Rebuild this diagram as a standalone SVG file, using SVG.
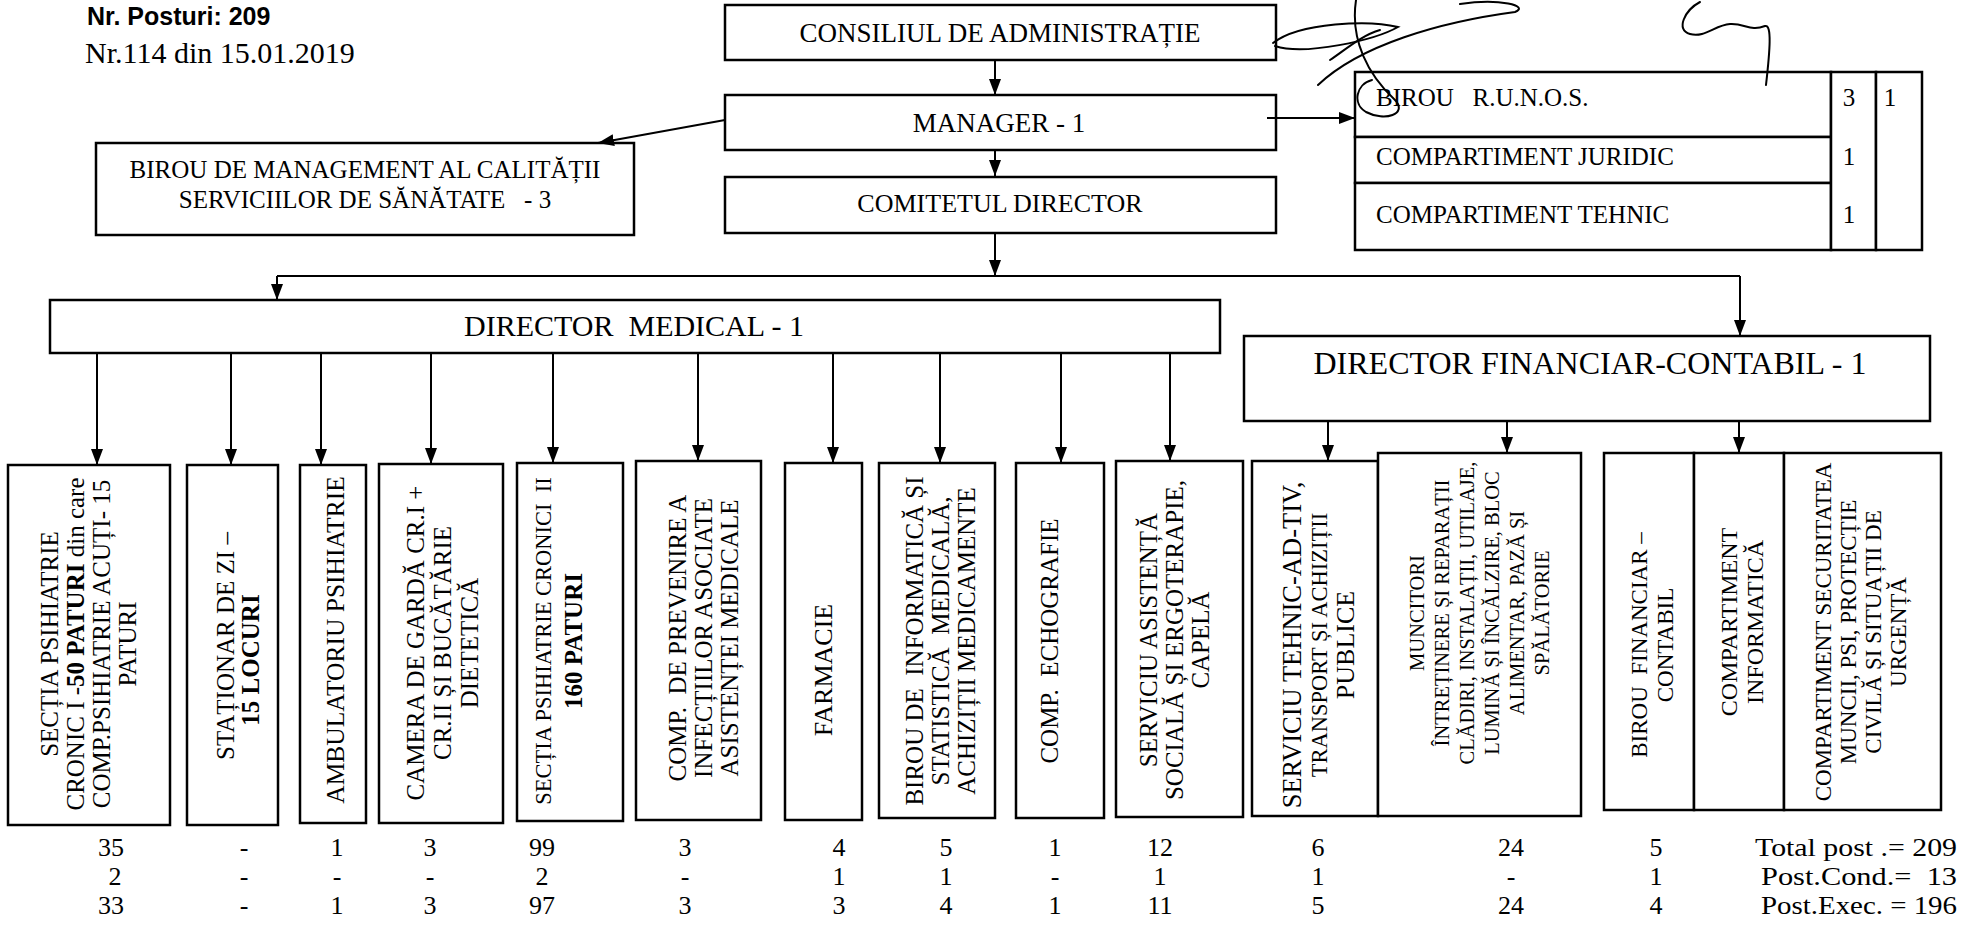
<svg xmlns="http://www.w3.org/2000/svg" width="1963" height="930" viewBox="0 0 1963 930">
<style>
.box{fill:#fff;stroke:#000;stroke-width:2.5}
.t{font-family:"Liberation Serif","Times New Roman",serif;fill:#000}
.s{font-family:"Liberation Sans",Arial,sans-serif;fill:#000}
.c{text-anchor:middle}
.e{text-anchor:end}
.b{font-weight:bold}
.conn line{stroke:#000;stroke-width:2;fill:none}
.arr{marker-end:url(#ah)}
.sig{fill:none;stroke:#000;stroke-width:2;stroke-linecap:round}
</style>
<defs>
<marker id="ah" viewBox="0 0 16 12" refX="16" refY="6" markerWidth="16" markerHeight="12" markerUnits="userSpaceOnUse" orient="auto"><path d="M0,0 L16,6 L0,12 z" fill="#000"/></marker>
</defs>
<rect width="1963" height="930" fill="#fff"/>

<g id="header">
<text class="s b" x="87" y="25" font-size="25">Nr. Posturi: 209</text>
<text class="t" x="85" y="63" font-size="30">Nr.114 din 15.01.2019</text>
</g>

<g id="consiliul"><rect class="box" x="725" y="5" width="551" height="55"/><text class="t c" x="1000" y="42" font-size="27">CONSILIUL DE ADMINISTRAȚIE</text></g>
<g id="manager"><rect class="box" x="725" y="95" width="551" height="55"/><text class="t c" x="999" y="132" font-size="27">MANAGER - 1</text></g>
<g id="comitetul"><rect class="box" x="725" y="177" width="551" height="56"/><text class="t c" x="1000" y="212" font-size="26">COMITETUL DIRECTOR</text></g>
<g id="birou-calitate"><rect class="box" x="96" y="143" width="538" height="92"/>
<text class="t c" x="365" y="178" font-size="25">BIROU DE MANAGEMENT AL CALITĂȚII</text>
<text class="t c" x="365" y="208" font-size="25" xml:space="preserve">SERVICIILOR DE SĂNĂTATE   - 3</text></g>

<g id="runos-table">
<g id="runos"><rect class="box" x="1355" y="72" width="476" height="65"/><text class="t" x="1376" y="106" font-size="25" xml:space="preserve">BIROU   R.U.N.O.S.</text></g>
<g id="juridic"><rect class="box" x="1355" y="137" width="476" height="46"/><text class="t" x="1376" y="165" font-size="25">COMPARTIMENT JURIDIC</text></g>
<g id="tehnic"><rect class="box" x="1355" y="183" width="476" height="67"/><text class="t" x="1376" y="223" font-size="25">COMPARTIMENT TEHNIC</text></g>
<rect class="box" x="1831" y="72" width="45" height="178"/>
<rect class="box" x="1876" y="72" width="46" height="178"/>
<text class="t c" x="1849" y="106" font-size="25">3</text>
<text class="t c" x="1890" y="106" font-size="25">1</text>
<text class="t c" x="1849" y="165" font-size="25">1</text>
<text class="t c" x="1849" y="223" font-size="25">1</text>
</g>

<g id="director-medical"><rect class="box" x="50" y="300" width="1170" height="53"/><text class="t c" x="634" y="336" font-size="30" xml:space="preserve">DIRECTOR  MEDICAL - 1</text></g>
<g id="director-financiar"><rect class="box" x="1244" y="336" width="686" height="85"/><text class="t c" x="1590" y="374" font-size="32">DIRECTOR FINANCIAR-CONTABIL - 1</text></g>

<g id="sectia-cronic-1"><rect class="box" x="8" y="465" width="162" height="360"/>
<g class="t c" font-size="25">
<text transform="translate(58,644) rotate(-90)">SECȚIA PSIHIATRIE</text>
<text transform="translate(84,644) rotate(-90)">CRONIC I -<tspan class="b">50 PATURI</tspan> din care</text>
<text transform="translate(110,644) rotate(-90)">COMP.PSIHIATRIE ACUȚI- 15</text>
<text transform="translate(136,644) rotate(-90)">PATURI</text>
</g></g>

<g id="stationar"><rect class="box" x="187" y="465" width="91" height="360"/>
<g class="t c" font-size="25">
<text transform="translate(234,646) rotate(-90)">STAȚIONAR DE ZI –</text>
<text class="b" transform="translate(259,660) rotate(-90)">15 LOCURI</text>
</g></g>

<g id="ambulatoriu"><rect class="box" x="300" y="465" width="66" height="358"/>
<text class="t c" font-size="25.5" transform="translate(344,640) rotate(-90)">AMBULATORIU PSIHIATRIE</text></g>

<g id="camera-garda"><rect class="box" x="379" y="464" width="124" height="359"/>
<g class="t c" font-size="25">
<text transform="translate(424,643) rotate(-90)">CAMERA DE GARDĂ CR.I +</text>
<text transform="translate(451,643) rotate(-90)">CR.II ȘI BUCĂTĂRIE</text>
<text transform="translate(478,643) rotate(-90)">DIETETICĂ</text>
</g></g>

<g id="sectia-cronici-2"><rect class="box" x="517" y="463" width="106" height="358"/>
<text class="t c" font-size="22.5" transform="translate(551,641) rotate(-90)" xml:space="preserve">SECȚIA PSIHIATRIE CRONICI  II</text>
<text class="t c b" font-size="25" transform="translate(582,641) rotate(-90)">160 PATURI</text>
</g>

<g id="comp-prevenire"><rect class="box" x="636" y="461" width="125" height="359"/>
<g class="t c" font-size="25">
<text transform="translate(686,638) rotate(-90)" xml:space="preserve">COMP.  DE PREVENIRE A</text>
<text transform="translate(712,638) rotate(-90)">INFECȚIILOR ASOCIATE</text>
<text transform="translate(738,638) rotate(-90)">ASISTENȚEI MEDICALE</text>
</g></g>

<g id="farmacie"><rect class="box" x="785" y="463" width="77" height="357"/>
<text class="t c" font-size="26" transform="translate(832,670) rotate(-90)">FARMACIE</text></g>

<g id="birou-informatica"><rect class="box" x="879" y="463" width="116" height="355"/>
<g class="t c" font-size="25">
<text transform="translate(923,641) rotate(-90)" xml:space="preserve">BIROU DE  INFORMATICĂ ȘI</text>
<text transform="translate(949,641) rotate(-90)" xml:space="preserve">STATISTICĂ  MEDICALĂ,</text>
<text transform="translate(975,641) rotate(-90)">ACHIZIȚII MEDICAMENTE</text>
</g></g>

<g id="echografie"><rect class="box" x="1016" y="463" width="88" height="355"/>
<text class="t c" font-size="25" transform="translate(1058,641) rotate(-90)" xml:space="preserve">COMP.  ECHOGRAFIE</text></g>

<g id="asistenta-sociala"><rect class="box" x="1116" y="461" width="127" height="356"/>
<g class="t c" font-size="25">
<text transform="translate(1157,640) rotate(-90)">SERVICIU ASISTENȚĂ</text>
<text transform="translate(1183,640) rotate(-90)">SOCIALĂ ȘI ERGOTERAPIE,</text>
<text transform="translate(1209,640) rotate(-90)">CAPELĂ</text>
</g></g>

<g id="serviciu-tehnic"><rect class="box" x="1252" y="461" width="126" height="355"/>
<g class="t c">
<text font-size="26.5" transform="translate(1301,645) rotate(-90)">SERVICIU TEHNIC-AD-TIV,</text>
<text font-size="22.5" transform="translate(1327,645) rotate(-90)">TRANSPORT ȘI ACHIZIȚII</text>
<text font-size="26" transform="translate(1354,645) rotate(-90)">PUBLICE</text>
</g></g>

<g id="muncitori"><rect class="box" x="1378" y="453" width="203" height="363"/>
<g class="t c" font-size="20.5">
<text transform="translate(1424,613) rotate(-90)">MUNCITORI</text>
<text transform="translate(1449,613) rotate(-90)">ÎNTREȚINERE ȘI REPARAȚII</text>
<text transform="translate(1474,613) rotate(-90)">CLĂDIRI, INSTALAȚII, UTILAJE,</text>
<text transform="translate(1499,613) rotate(-90)">LUMINĂ ȘI ÎNCĂLZIRE, BLOC</text>
<text transform="translate(1524,613) rotate(-90)">ALIMENTAR, PAZĂ ȘI</text>
<text transform="translate(1549,613) rotate(-90)">SPĂLĂTORIE</text>
</g></g>

<g id="birou-financiar"><rect class="box" x="1604" y="453" width="90" height="357"/>
<g class="t c" font-size="23">
<text transform="translate(1647,645) rotate(-90)" xml:space="preserve">BIROU  FINANCIAR –</text>
<text transform="translate(1673,645) rotate(-90)">CONTABIL</text>
</g></g>

<g id="comp-informatica"><rect class="box" x="1694" y="453" width="90" height="357"/>
<g class="t c" font-size="24">
<text transform="translate(1737,622) rotate(-90)">COMPARTIMENT</text>
<text transform="translate(1763,622) rotate(-90)">INFORMATICĂ</text>
</g></g>

<g id="comp-securitate"><rect class="box" x="1784" y="453" width="157" height="357"/>
<g class="t c" font-size="23">
<text transform="translate(1831,632) rotate(-90)">COMPARTIMENT SECURITATEA</text>
<text transform="translate(1856,632) rotate(-90)">MUNCII, PSI, PROTECȚIE</text>
<text transform="translate(1881,632) rotate(-90)">CIVILĂ ȘI SITUAȚII DE</text>
<text transform="translate(1906,632) rotate(-90)">URGENȚĂ</text>
</g></g>

<g id="connectors" class="conn">
<line class="arr" x1="995" y1="60" x2="995" y2="95"/>
<line class="arr" x1="995" y1="150" x2="995" y2="176"/>
<line class="arr" x1="725" y1="120" x2="598" y2="143"/>
<line class="arr" x1="1267" y1="118" x2="1355" y2="118"/>
<line class="arr" x1="995" y1="233" x2="995" y2="276"/>
<line x1="277" y1="276" x2="1740" y2="276"/>
<line class="arr" x1="277" y1="276" x2="277" y2="300"/>
<line class="arr" x1="1740" y1="276" x2="1740" y2="336"/>
<line class="arr" x1="97" y1="353" x2="97" y2="465"/>
<line class="arr" x1="231" y1="353" x2="231" y2="465"/>
<line class="arr" x1="321" y1="353" x2="321" y2="465"/>
<line class="arr" x1="431" y1="353" x2="431" y2="464"/>
<line class="arr" x1="553" y1="353" x2="553" y2="463"/>
<line class="arr" x1="698" y1="353" x2="698" y2="461"/>
<line class="arr" x1="833" y1="353" x2="833" y2="463"/>
<line class="arr" x1="940" y1="353" x2="940" y2="463"/>
<line class="arr" x1="1061" y1="353" x2="1061" y2="463"/>
<line class="arr" x1="1170" y1="353" x2="1170" y2="461"/>
<line class="arr" x1="1328" y1="421" x2="1328" y2="461"/>
<line class="arr" x1="1507" y1="421" x2="1507" y2="453"/>
<line class="arr" x1="1739" y1="421" x2="1739" y2="453"/>
</g>

<g id="counts" class="t c" font-size="26">
<text x="111" y="856">35</text><text x="115" y="885">2</text><text x="111" y="914">33</text>
<text x="244" y="856">-</text><text x="244" y="885">-</text><text x="244" y="914">-</text>
<text x="337" y="856">1</text><text x="337" y="885">-</text><text x="337" y="914">1</text>
<text x="430" y="856">3</text><text x="430" y="885">-</text><text x="430" y="914">3</text>
<text x="542" y="856">99</text><text x="542" y="885">2</text><text x="542" y="914">97</text>
<text x="685" y="856">3</text><text x="685" y="885">-</text><text x="685" y="914">3</text>
<text x="839" y="856">4</text><text x="839" y="885">1</text><text x="839" y="914">3</text>
<text x="946" y="856">5</text><text x="946" y="885">1</text><text x="946" y="914">4</text>
<text x="1055" y="856">1</text><text x="1055" y="885">-</text><text x="1055" y="914">1</text>
<text x="1160" y="856">12</text><text x="1160" y="885">1</text><text x="1160" y="914">11</text>
<text x="1318" y="856">6</text><text x="1318" y="885">1</text><text x="1318" y="914">5</text>
<text x="1511" y="856">24</text><text x="1511" y="885">-</text><text x="1511" y="914">24</text>
<text x="1656" y="856">5</text><text x="1656" y="885">1</text><text x="1656" y="914">4</text>
</g>
<g id="totals" class="t" font-size="26">
<text x="1755" y="856" textLength="202" lengthAdjust="spacingAndGlyphs">Total post .= 209</text>
<text x="1761" y="885" textLength="196" lengthAdjust="spacingAndGlyphs" xml:space="preserve">Post.Cond.=  13</text>
<text x="1761" y="914" textLength="196" lengthAdjust="spacingAndGlyphs">Post.Exec. = 196</text>
</g>

<g id="signatures" class="sig">
<path d="M1273,43 C1300,22 1370,20 1398,27 C1375,40 1305,56 1275,46"/>
<path d="M1356,0 C1350,40 1368,75 1395,100 C1408,114 1385,122 1366,112 C1352,104 1356,84 1372,80"/>
<path d="M1318,85 C1360,45 1440,22 1515,12 C1530,6 1500,-2 1460,4"/>
<path d="M1330,60 C1345,50 1362,35 1380,30"/>
<path d="M1700,2 C1685,10 1675,30 1690,34 C1705,38 1715,25 1730,24 C1745,23 1750,32 1765,26 C1772,24 1770,50 1766,85"/>
</g>
</svg>
